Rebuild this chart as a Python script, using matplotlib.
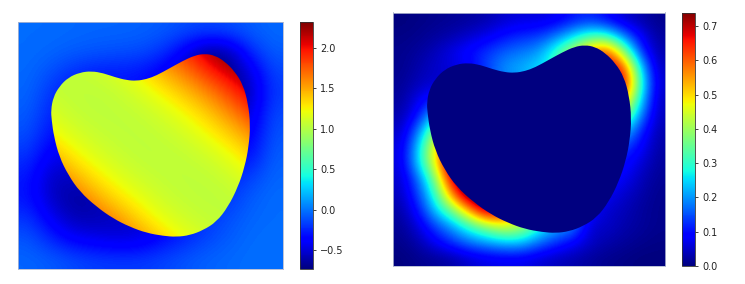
import numpy as np
import matplotlib
matplotlib.use("Agg")
import matplotlib.pyplot as plt
from matplotlib.path import Path
from matplotlib.patches import PathPatch

# outline of the shape, same for both panels (x right, y down)
boundary_x = [153, 160, 178, 205, 240, 275, 310, 345, 380, 410, 440, 470, 510, 550, 585, 615, 645, 675, 705, 730,
              745, 752, 747, 735, 715, 685, 650, 610, 570, 530, 490, 440, 390, 340, 290, 240, 205, 178, 162, 155]
boundary_y = [300, 262, 230, 203, 188, 184, 190, 202, 211, 213, 208, 197, 175, 153, 137, 132, 137, 155, 185, 225,
              280, 345, 410, 470, 530, 590, 635, 660, 675, 680, 677, 668, 650, 625, 590, 545, 495, 440, 380, 330]

# left panel, field outside the shape
left_outer = [
    [-.03, -.03, -.04, -.05, -.05, -.06, -.08, -.12, -.15, -.13, -.08, -.04],
    [-.03, -.05, -.08, -.10, -.12, -.13, -.20, -.40, -.70, -.65, -.25, -.08],
    [-.04, -.12, -.22, -.28, -.28, -.30, -.40, -.55, -.70, -.73, -.50, -.15],
    [-.05, -.20, -.30, -.30, -.30, -.30, -.40, -.50, -.60, -.70, -.58, -.18],
    [-.08, -.25, -.30, -.30, -.30, -.30, -.35, -.40, -.45, -.50, -.50, -.13],
    [-.12, -.32, -.35, -.35, -.30, -.30, -.30, -.30, -.35, -.38, -.42, -.10],
    [-.20, -.42, -.45, -.40, -.35, -.30, -.30, -.30, -.30, -.30, -.33, -.07],
    [-.28, -.55, -.55, -.50, -.40, -.35, -.30, -.25, -.25, -.25, -.17, -.05],
    [-.30, -.55, -.65, -.60, -.50, -.40, -.30, -.25, -.22, -.20, -.08, -.03],
    [-.20, -.42, -.60, -.60, -.55, -.50, -.40, -.30, -.20, -.12, -.05, -.03],
    [-.10, -.25, -.40, -.45, -.50, -.48, -.35, -.25, -.15, -.08, -.03, -.02],
    [-.05, -.08, -.13, -.17, -.18, -.18, -.15, -.10, -.06, -.04, -.02, -.02],
]

# left panel, field inside the shape
left_inner = [
    [1.02, 1.06, 1.16, 1.40, 1.68, 1.90, 2.10, 2.35, 2.35, 2.35],
    [1.04, 1.04, 1.08, 1.18, 1.36, 1.62, 1.85, 2.20, 2.35, 2.35],
    [1.09, 1.03, 1.04, 1.06, 1.16, 1.34, 1.55, 1.80, 2.10, 2.35],
    [1.18, 1.09, 1.03, 1.03, 1.06, 1.14, 1.29, 1.50, 1.80, 2.10],
    [1.38, 1.19, 1.09, 1.04, 1.03, 1.06, 1.13, 1.28, 1.48, 1.80],
    [1.66, 1.41, 1.21, 1.10, 1.04, 1.03, 1.05, 1.11, 1.26, 1.46],
    [1.96, 1.68, 1.43, 1.23, 1.11, 1.05, 1.03, 1.04, 1.11, 1.26],
    [2.20, 1.96, 1.70, 1.46, 1.26, 1.11, 1.05, 1.03, 1.04, 1.10],
    [2.20, 2.20, 1.96, 1.76, 1.49, 1.27, 1.13, 1.06, 1.03, 1.04],
    [2.20, 2.20, 2.20, 1.96, 1.78, 1.53, 1.30, 1.16, 1.06, 1.03],
]

# right panel, field outside the shape
right_outer = [
    [.000, .005, .010, .015, .020, .030, .050, .060, .060, .070, .100, .120, .090, .050, .030, .010],
    [.005, .010, .020, .030, .050, .070, .100, .120, .130, .170, .240, .310, .300, .180, .080, .020],
    [.010, .020, .040, .070, .100, .130, .160, .180, .200, .300, .420, .550, .650, .400, .130, .030],
    [.010, .030, .050, .060, .080, .140, .200, .220, .250, .300, .450, .600, .700, .650, .250, .040],
    [.015, .040, .050, .050, .080, .120, .180, .200, .250, .300, .400, .550, .700, .720, .300, .050],
    [.020, .070, .120, .100, .100, .100, .150, .200, .250, .300, .400, .500, .600, .580, .260, .040],
    [.030, .100, .250, .300, .200, .200, .200, .200, .250, .300, .350, .400, .400, .420, .190, .040],
    [.045, .180, .400, .500, .400, .300, .250, .200, .200, .200, .250, .250, .250, .250, .120, .030],
    [.060, .240, .500, .700, .500, .400, .300, .250, .200, .200, .200, .200, .150, .140, .090, .025],
    [.060, .250, .480, .800, .700, .500, .400, .300, .200, .200, .150, .150, .120, .100, .060, .020],
    [.050, .170, .370, .720, .800, .700, .500, .400, .300, .200, .150, .100, .100, .080, .040, .015],
    [.040, .140, .300, .580, .800, .800, .600, .500, .400, .300, .200, .100, .080, .050, .030, .010],
    [.025, .100, .240, .360, .550, .750, .700, .500, .400, .300, .200, .100, .050, .040, .020, .010],
    [.015, .060, .140, .210, .300, .380, .450, .420, .300, .220, .200, .050, .050, .030, .020, .010],
    [.008, .030, .080, .130, .180, .210, .240, .240, .180, .130, .090, .050, .030, .020, .010, .005],
    [.000, .010, .015, .025, .050, .065, .070, .070, .055, .040, .030, .020, .010, .005, .000, .000],
]

left_ticks = [-0.5, 0.0, 0.5, 1.0, 1.5, 2.0]
right_ticks = [0.0, 0.1, 0.2, 0.3, 0.4, 0.5, 0.6, 0.7]
left_range = (-0.735, 2.32)
right_range = (0.0, 0.74)

W, H = 745, 284
EXTENT = (54, 850, 776, 37)


def box(x0, y0, x1, y1):
    # pixel box (y down) to figure fractions
    return [x0 / W, 1 - y1 / H, (x1 - x0) / W, (y1 - y0) / H]


def shape_path():
    pts = np.column_stack([boundary_x, boundary_y]).astype(float)
    mids = (pts + np.roll(pts, -1, axis=0)) / 2
    verts = [mids[-1]]
    codes = [Path.MOVETO]
    for p, m in zip(pts, mids):
        verts += [p, m]
        codes += [Path.CURVE3, Path.CURVE3]
    return Path(verts, codes)


def field(ax, values, vmin, vmax):
    return ax.imshow(values, extent=EXTENT, cmap="jet", vmin=vmin, vmax=vmax, aspect="auto",
                     interpolation="bicubic", interpolation_stage="data")


def finish(ax, cax, im, ticks):
    ax.set_xticks([])
    ax.set_yticks([])
    ax.set_xlim(EXTENT[0], EXTENT[1])
    ax.set_ylim(EXTENT[2], EXTENT[3])
    for s in ax.spines.values():
        s.set_linewidth(0.6)
        s.set_color("#b0b8d0")
    cb = fig.colorbar(im, cax=cax, ticks=ticks)
    cb.ax.tick_params(labelsize=7, length=2.5, width=0.6, pad=2.5, colors="#222222")
    cb.outline.set_linewidth(0.6)
    cb.outline.set_edgecolor("#333333")


fig = plt.figure(figsize=(W / 100, H / 100), dpi=100)

# left
ax1 = fig.add_axes(box(18, 22, 283, 269))
cax1 = fig.add_axes(box(300, 22, 313, 269))
im1 = field(ax1, left_outer, *left_range)
inner = field(ax1, left_inner, *left_range)
patch = PathPatch(shape_path(), facecolor="none", edgecolor="none")
ax1.add_patch(patch)
inner.set_clip_path(patch)
finish(ax1, cax1, im1, left_ticks)

# right
ax2 = fig.add_axes(box(393, 12.5, 665, 266))
cax2 = fig.add_axes(box(682, 12.5, 695, 266))
im2 = field(ax2, right_outer, *right_range)
ax2.add_patch(PathPatch(shape_path(), facecolor=plt.get_cmap("jet")(0.0), edgecolor="none"))
finish(ax2, cax2, im2, right_ticks)

fig.savefig("out.png", dpi=100)
